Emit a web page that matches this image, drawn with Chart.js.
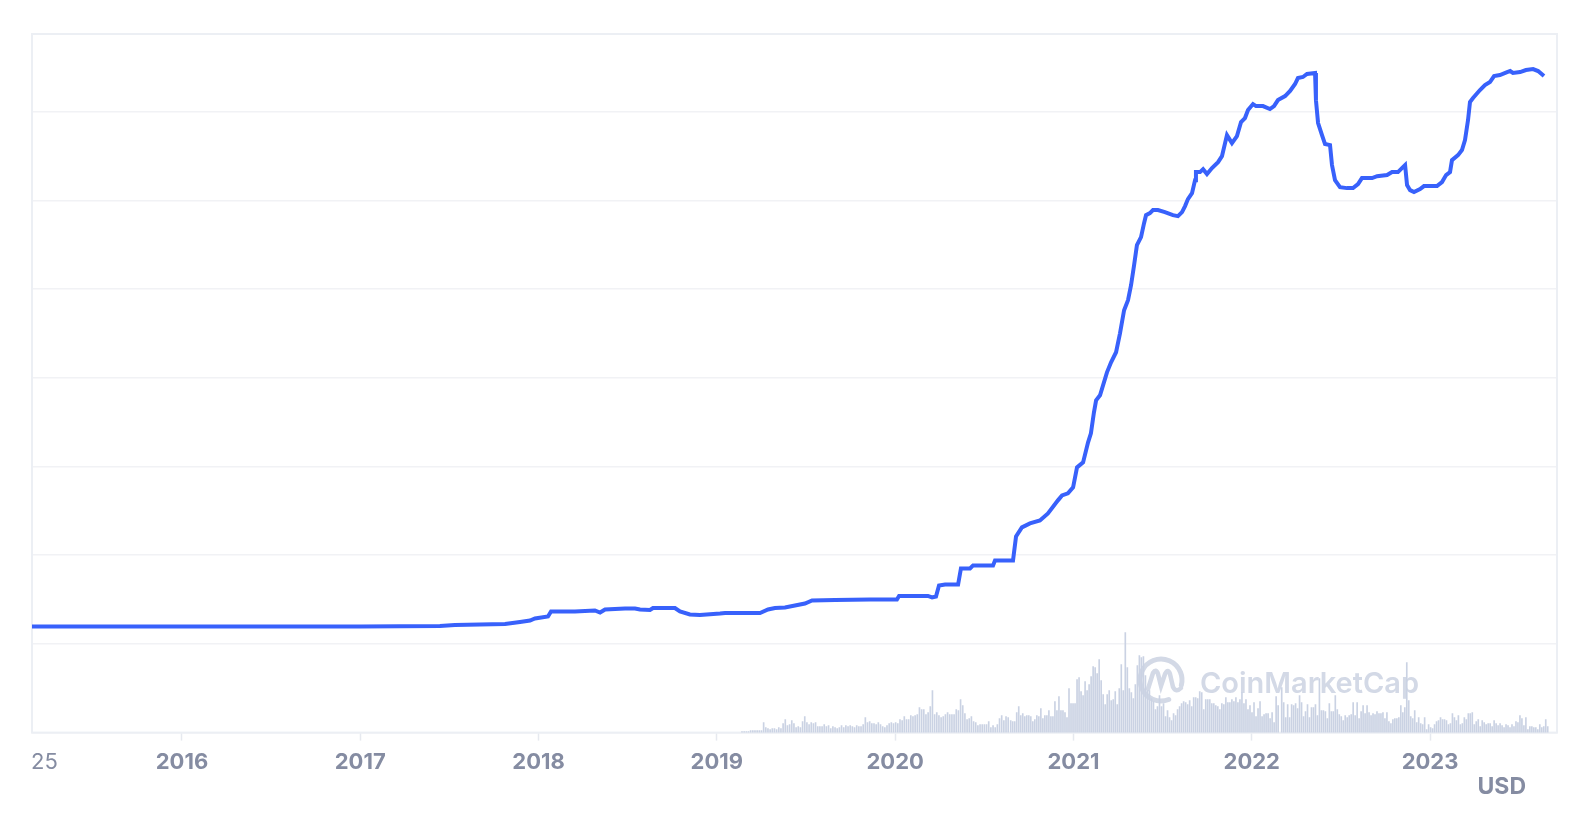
<!DOCTYPE html>
<html>
<head>
<meta charset="utf-8">
<script src="https://cdn.jsdelivr.net/npm/chart.js@4.4.0/dist/chart.umd.min.js"></script>
<style>
  html, body { margin: 0; padding: 0; background: #fff; }
  #wrap { position: relative; width: 1570px; height: 822px; }
  #usd { position: absolute; right: 44px; top: 775px; font: 700 23px Inter, sans-serif; line-height: 22px; color: #858ca2; }
</style>
</head>
<body>
<div id="wrap">
  <canvas id="myChart" width="1570" height="822"></canvas>
  <div id="usd">USD</div>
</div>
<script>
// price line, dates as decimal years
const dates = [
  2015.159, 2016.998, 2017.447, 2017.531, 2017.671, 2017.812, 2017.896, 2017.952, 2017.980, 2018.053,
  2018.070, 2018.204, 2018.316, 2018.345, 2018.373, 2018.485, 2018.541, 2018.569, 2018.625, 2018.642,
  2018.765, 2018.793, 2018.849, 2018.905, 2019.018, 2019.046, 2019.242, 2019.287, 2019.326, 2019.382,
  2019.438, 2019.494, 2019.534, 2019.663, 2019.859, 2020.010, 2020.022, 2020.184, 2020.207, 2020.229,
  2020.246, 2020.280, 2020.353, 2020.369, 2020.420, 2020.437, 2020.549, 2020.560, 2020.661, 2020.678,
  2020.711, 2020.756, 2020.812, 2020.857, 2020.913, 2020.936, 2020.969, 2020.998, 2021.020, 2021.054,
  2021.082, 2021.098, 2021.115, 2021.127, 2021.149, 2021.188, 2021.211, 2021.239, 2021.261, 2021.284,
  2021.306, 2021.323, 2021.340, 2021.356, 2021.379, 2021.396, 2021.407, 2021.429, 2021.446, 2021.474,
  2021.513, 2021.558, 2021.586, 2021.609, 2021.626, 2021.642, 2021.665, 2021.682, 2021.687, 2021.710,
  2021.727, 2021.749, 2021.777, 2021.811, 2021.833, 2021.861, 2021.889, 2021.917, 2021.940, 2021.962,
  2021.979, 2022.007, 2022.024, 2022.063, 2022.102, 2022.125, 2022.147, 2022.187, 2022.215, 2022.243,
  2022.259, 2022.287, 2022.310, 2022.355, 2022.360, 2022.372, 2022.394, 2022.411, 2022.439, 2022.450,
  2022.467, 2022.495, 2022.534, 2022.568, 2022.596, 2022.618, 2022.675, 2022.703, 2022.759, 2022.787,
  2022.820, 2022.848, 2022.860, 2022.871, 2022.888, 2022.910, 2022.944, 2022.966, 2023.039, 2023.067,
  2023.090, 2023.112, 2023.123, 2023.157, 2023.179, 2023.196, 2023.213, 2023.224, 2023.241, 2023.280,
  2023.308, 2023.336, 2023.359, 2023.392, 2023.432, 2023.449, 2023.465, 2023.505, 2023.538, 2023.578,
  2023.606, 2023.639
];
const prices = [
  1.196, 1.196, 1.202, 1.213, 1.219, 1.225, 1.247, 1.264, 1.287, 1.309,
  1.366, 1.366, 1.377, 1.354, 1.388, 1.400, 1.400, 1.388, 1.383, 1.405,
  1.405, 1.366, 1.332, 1.326, 1.343, 1.349, 1.349, 1.388, 1.405, 1.411,
  1.433, 1.456, 1.490, 1.495, 1.501, 1.501, 1.541, 1.541, 1.524, 1.535,
  1.659, 1.670, 1.670, 1.851, 1.851, 1.885, 1.885, 1.941, 1.941, 2.212,
  2.314, 2.359, 2.393, 2.472, 2.619, 2.675, 2.698, 2.765, 2.991, 3.047,
  3.273, 3.375, 3.612, 3.747, 3.804, 4.063, 4.176, 4.289, 4.503, 4.763,
  4.876, 5.045, 5.271, 5.497, 5.587, 5.745, 5.835, 5.858, 5.892, 5.892,
  5.869, 5.835, 5.824, 5.869, 5.937, 6.016, 6.084, 6.230, 6.321, 6.321,
  6.354, 6.298, 6.366, 6.433, 6.501, 6.738, 6.648, 6.727, 6.885, 6.930,
  7.020, 7.088, 7.065, 7.065, 7.032, 7.065, 7.133, 7.178, 7.235, 7.314,
  7.381, 7.393, 7.427, 7.438, 7.133, 6.874, 6.738, 6.637, 6.625, 6.400,
  6.230, 6.151, 6.140, 6.140, 6.185, 6.253, 6.253, 6.275, 6.287, 6.321,
  6.321, 6.377, 6.400, 6.174, 6.117, 6.095, 6.129, 6.163, 6.163, 6.208,
  6.287, 6.321, 6.456, 6.512, 6.569, 6.682, 6.907, 7.111, 7.156, 7.246,
  7.302, 7.336, 7.404, 7.415, 7.449, 7.460, 7.438, 7.449, 7.472, 7.483,
  7.460, 7.404
];

// x axis
const xMin = 2015.159;
const xMax = 2023.712;
const startLabel = '25';
const startLabelAt = 2015.229;
const yearTicks = [2016, 2017, 2018, 2019, 2020, 2021, 2022, 2023];
const yMax = 7.878;

// volume bars, three stretches read left to right
const volumeA = [
  1, 1, 1, 1, 2, 2, 2, 2, 2, 2, 10, 5, 4, 3, 4, 4, 3, 5, 4, 9,
  13, 7, 8, 12, 9, 5, 6, 5, 11, 16, 10, 8, 10, 9, 10, 6, 6, 6, 8, 6,
  7, 4, 6, 5, 4, 5, 7, 5, 7, 6, 7, 6, 5, 7, 6, 6, 8, 15, 10, 11,
  9, 9, 8, 10, 8, 6, 5, 7, 9, 10, 9, 10, 9, 13, 12, 16, 13, 13, 17, 16,
  17, 18, 25, 23, 23, 18, 20, 26, 42, 18, 20, 17, 15, 16, 18, 20, 18, 18, 18, 23,
  22, 33, 27, 19, 13, 14, 16, 11, 10, 7, 8, 8, 8, 8, 11, 5, 7, 5, 8, 14,
  17, 12, 16, 15
];
const volumeB = [
  12, 11, 11, 20, 26, 17, 19, 16, 17, 17, 16, 11, 13, 17, 16, 24, 14, 17, 17, 22,
  16, 16, 31, 22, 36, 22, 22, 20, 15, 44, 29, 29, 29, 53, 55, 41, 37, 51, 42, 48,
  56, 66, 65, 59, 73, 52, 38, 28, 38, 42, 32, 33, 41, 28, 44, 68, 42, 100, 65, 44,
  40, 34, 48, 67, 77, 75, 76, 57, 42, 42, 34, 31, 23, 26, 37, 26, 29, 16, 22, 15,
  12, 19, 17, 23, 26, 29, 31, 30, 28, 32, 26, 35, 35, 34, 41, 40, 23, 33, 33, 33,
  29, 29, 27, 26, 23, 29, 28, 35, 30, 30, 33, 31, 35, 30, 33, 40, 29, 33, 23, 27,
  20, 30, 16, 24, 31, 16, 18, 19, 19, 14, 20, 10, 36, 27
];
const volumeC = [
  45, 30, 15, 28, 15, 28, 27, 29, 24, 37, 30, 16, 21, 28, 15, 25, 25, 28, 17, 54,
  22, 22, 21, 14, 29, 21, 21, 37, 23, 18, 16, 12, 17, 15, 17, 18, 30, 17, 30, 14,
  21, 27, 19, 27, 20, 17, 19, 18, 21, 19, 19, 20, 14, 20, 11, 9, 13, 14, 14, 15,
  27, 20, 25, 70, 32, 16, 14, 22, 10, 15, 9, 8, 15, 3, 8, 5, 4, 8, 11, 12,
  15, 13, 13, 12, 8, 9, 19, 15, 12, 17, 8, 9, 15, 13, 19, 19, 20, 8, 11, 13,
  6, 12, 10, 8, 9, 9, 6, 12, 9, 7, 9, 7, 5, 8, 7, 5, 8, 6, 11, 10,
  17, 14, 7, 15, 3, 6, 6, 5, 5, 3, 8, 5, 6, 13, 6
];
const volumeRanges = [[2019.141, 2020.634], [2020.648, 2022.148], [2022.168, 2023.660]];
const volumeMax = 698;

function spread(values, range) {
  const step = (range[1] - range[0]) / (values.length - 1);
  return values.map((v, i) => ({ x: range[0] + i * step, y: v }));
}

const volumeData = [].concat(
  spread(volumeA, volumeRanges[0]),
  spread(volumeB, volumeRanges[1]),
  spread(volumeC, volumeRanges[2])
);

const frame = {
  id: 'frame',
  beforeDatasetsDraw(chart) {
    const { ctx, chartArea: a } = chart;
    ctx.save();
    // watermark
    ctx.strokeStyle = '#d3d9e6';
    ctx.lineWidth = 5;
    ctx.lineCap = 'round';
    ctx.beginPath();
    ctx.arc(1161, 680, 21, 0.38 * Math.PI, 2.08 * Math.PI);
    ctx.stroke();
    ctx.lineWidth = 4.5;
    ctx.beginPath();
    ctx.moveTo(1148, 689);
    ctx.lineTo(1153, 673);
    ctx.quadraticCurveTo(1156, 668, 1158, 674);
    ctx.lineTo(1161, 686);
    ctx.lineTo(1165, 674);
    ctx.quadraticCurveTo(1168, 668, 1170, 674);
    ctx.lineTo(1173, 687);
    ctx.quadraticCurveTo(1176, 693, 1181, 688);
    ctx.stroke();
    ctx.fillStyle = '#d3d9e6';
    ctx.font = '600 29px Inter, sans-serif';
    ctx.textBaseline = 'alphabetic';
    ctx.fillText('CoinMarketCap', 1200, 693);
    // plot frame
    ctx.strokeStyle = '#eceff4';
    ctx.lineWidth = 2;
    ctx.strokeRect(a.left, a.top, a.right - a.left, a.bottom - a.top);
    ctx.restore();
  }
};

const ctx = document.getElementById('myChart').getContext('2d');
const myChart = new Chart(ctx, {
  type: 'line',
  data: {
    datasets: [{
      data: dates.map((d, i) => ({ x: d, y: prices[i] })),
      borderColor: '#3861fb',
      borderWidth: 4,
      pointRadius: 0,
      tension: 0,
      yAxisID: 'y',
      order: 0
    }, {
      type: 'bar',
      data: volumeData,
      backgroundColor: '#cad2e3',
      barThickness: 1,
      yAxisID: 'y2',
      order: 1
    }]
  },
  options: {
    responsive: false,
    animation: false,
    layout: { padding: { left: 32, right: 13, top: 34, bottom: 37 } },
    plugins: { legend: { display: false }, tooltip: { enabled: false } },
    scales: {
      x: {
        type: 'linear',
        min: xMin,
        max: xMax,
        offset: false,
        border: { display: false },
        grid: {
          offset: false,
          drawOnChartArea: false,
          drawTicks: true,
          tickLength: 8,
          tickWidth: 1.5,
          tickColor: c => (c.tick && c.tick.value === startLabelAt) ? 'rgba(0,0,0,0)' : '#e6e9ef'
        },
        afterBuildTicks: scale => {
          scale.ticks = [startLabelAt].concat(yearTicks).map(v => ({ value: v }));
        },
        ticks: {
          autoSkip: false,
          maxRotation: 0,
          padding: 9,
          color: '#858ca2',
          font: c => ({
            family: 'Inter',
            size: 22,
            weight: (c.tick && c.tick.value === startLabelAt) ? 400 : 700
          }),
          callback: v => v === startLabelAt ? startLabel : String(v)
        }
      },
      y: {
        min: 0,
        max: yMax,
        border: { display: false },
        grid: { color: '#f1f2f5', lineWidth: 1.5, drawTicks: false },
        ticks: { display: false, stepSize: 1 }
      },
      y2: {
        display: false,
        min: 0,
        max: volumeMax
      }
    }
  },
  plugins: [frame]
});
</script>
</body>
</html>
